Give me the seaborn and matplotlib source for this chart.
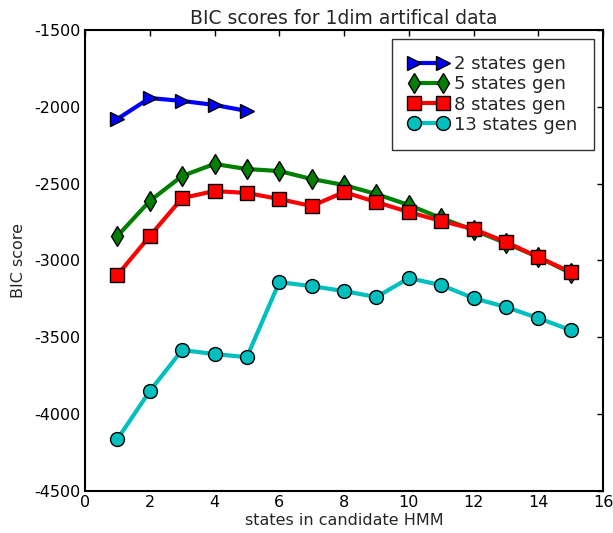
import matplotlib
matplotlib.use("Agg")
import matplotlib.pyplot as plt
import seaborn as sns
import pandas as pd

states = list(range(1, 16))
gen2_x = [1, 2, 3, 4, 5]
gen2 = [-2079, -1943, -1962, -1988, -2027]
gen5 = [-2841, -2613, -2450, -2372, -2405, -2418, -2470, -2509, -2568, -2639,
        -2724, -2802, -2887, -2978, -3082]
gen8 = [-3095, -2841, -2594, -2548, -2561, -2600, -2646, -2555, -2620, -2685,
        -2743, -2795, -2880, -2978, -3076]
gen13 = [-4163, -3850, -3583, -3609, -3629, -3141, -3167, -3199, -3238, -3115,
         -3160, -3245, -3303, -3375, -3453]

labels = ["2 states gen", "5 states gen", "8 states gen", "13 states gen"]
colors = ["#0000ff", "#008000", "#ff0000", "#00bfbf"]
markers = [">", "d", "s", "o"]

sns.set_theme(style="white")
plt.rcParams['font.family'] = ['DejaVu Sans']
plt.rcParams['axes.unicode_minus'] = False

fig = plt.figure(figsize=(6.13, 5.33), dpi=100)
ax = fig.add_axes([0.1387, 0.0788, 0.845, 0.865])

series = [(gen2_x, gen2), (states, gen5), (states, gen8), (states, gen13)]
for (xs, ys), lab, c, m in zip(series, labels, colors, markers):
    df = pd.DataFrame({"x": xs, "y": ys})
    sns.lineplot(data=df, x="x", y="y", ax=ax, color=c, marker=m, markersize=10,
                 linewidth=3, markeredgecolor="black", markeredgewidth=1,
                 label=lab, markerfacecolor=c)

ax.set_xlim(0, 16)
ax.set_ylim(-4500, -1500)
ax.set_xticks(range(0, 17, 2))
ax.set_yticks(range(-4500, -1499, 500))
ax.tick_params(direction="in", top=True, right=True, length=4, width=1,
               labelsize=11.5, colors="black", pad=3)
for s in ax.spines.values():
    s.set_color("black")
    s.set_linewidth(1.5)
ax.set_xlabel("states in candidate HMM", fontsize=11.5, labelpad=2)
ax.set_ylabel("BIC score", fontsize=11.5, labelpad=6)
ax.set_title("BIC scores for 1dim artifical data", fontsize=13.5, pad=4)
leg = ax.legend(loc="upper right", numpoints=2, fontsize=13, frameon=True,
                fancybox=False, handlelength=2.2, handletextpad=0.35,
                borderpad=0.9, labelspacing=0.12, borderaxespad=0.5)
leg.get_frame().set_edgecolor("black")
leg.get_frame().set_linewidth(1)
fig.savefig("out.png", dpi=100)
